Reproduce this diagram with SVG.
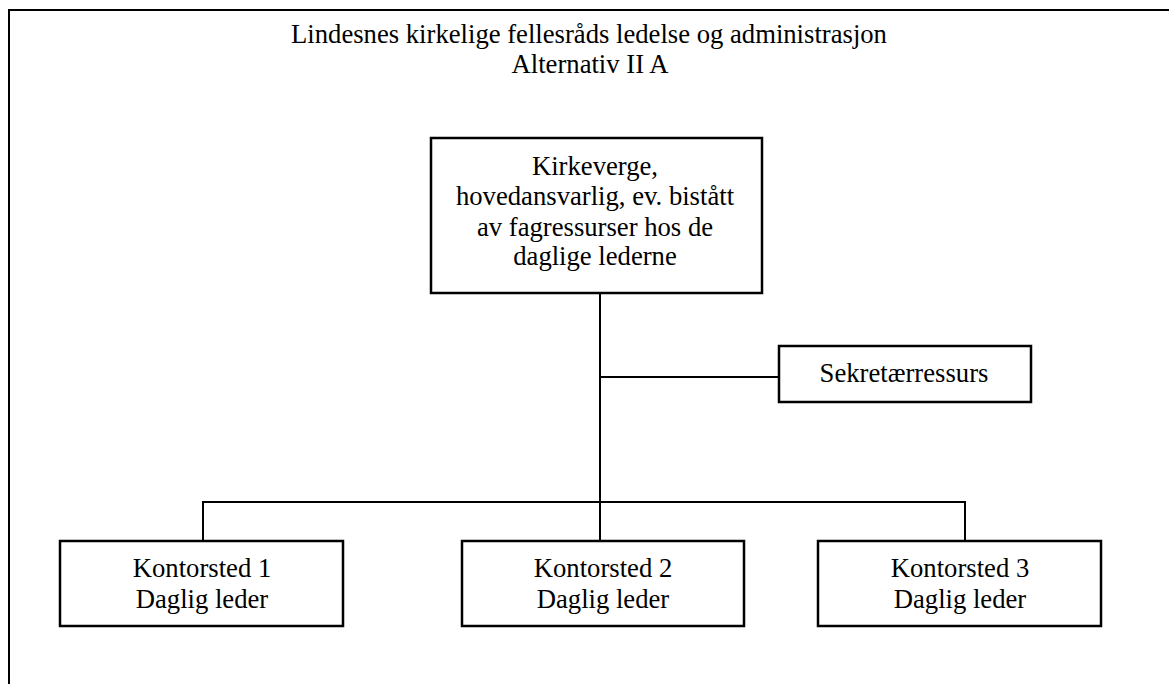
<svg xmlns="http://www.w3.org/2000/svg" width="1169" height="684" viewBox="0 0 1169 684">
<style>
text{font-family:"Liberation Serif","Times New Roman",serif;font-size:26.67px;fill:#000;text-anchor:middle}
.box{fill:#fff;stroke:#000;stroke-width:2.5}
.ln{stroke:#000;stroke-width:2;fill:none}
</style>
<rect width="1169" height="684" fill="#fff"/>
<g id="frame">
<path class="ln" d="M9,684 V10 H1169"/>
</g>
<g id="title">
<text x="589" y="43">Lindesnes kirkelige fellesråds ledelse og administrasjon</text>
<text x="590" y="73">Alternativ II A</text>
</g>
<g id="connectors">
<path class="ln" d="M600,293 V502"/>
<path class="ln" d="M600,377 H779"/>
<path class="ln" d="M203,541 V502 H965 V541"/>
<path class="ln" d="M600,502 V541"/>
</g>
<g id="kirkeverge">
<rect class="box" x="431" y="138" width="331" height="155"/>
<text x="595" y="175">Kirkeverge,</text>
<text x="595" y="205">hovedansvarlig, ev. bistått</text>
<text x="595" y="236">av fagressurser hos de</text>
<text x="595" y="265">daglige lederne</text>
</g>
<g id="sekretaer">
<rect class="box" x="779" y="346" width="252" height="56"/>
<text x="904" y="382">Sekretærressurs</text>
</g>
<g id="kontor1">
<rect class="box" x="60" y="541" width="283" height="85"/>
<text x="202" y="577">Kontorsted 1</text>
<text x="202" y="608">Daglig leder</text>
</g>
<g id="kontor2">
<rect class="box" x="462" y="541" width="282" height="85"/>
<text x="603" y="577">Kontorsted 2</text>
<text x="603" y="608">Daglig leder</text>
</g>
<g id="kontor3">
<rect class="box" x="818" y="541" width="283" height="85"/>
<text x="960" y="577">Kontorsted 3</text>
<text x="960" y="608">Daglig leder</text>
</g>
</svg>
